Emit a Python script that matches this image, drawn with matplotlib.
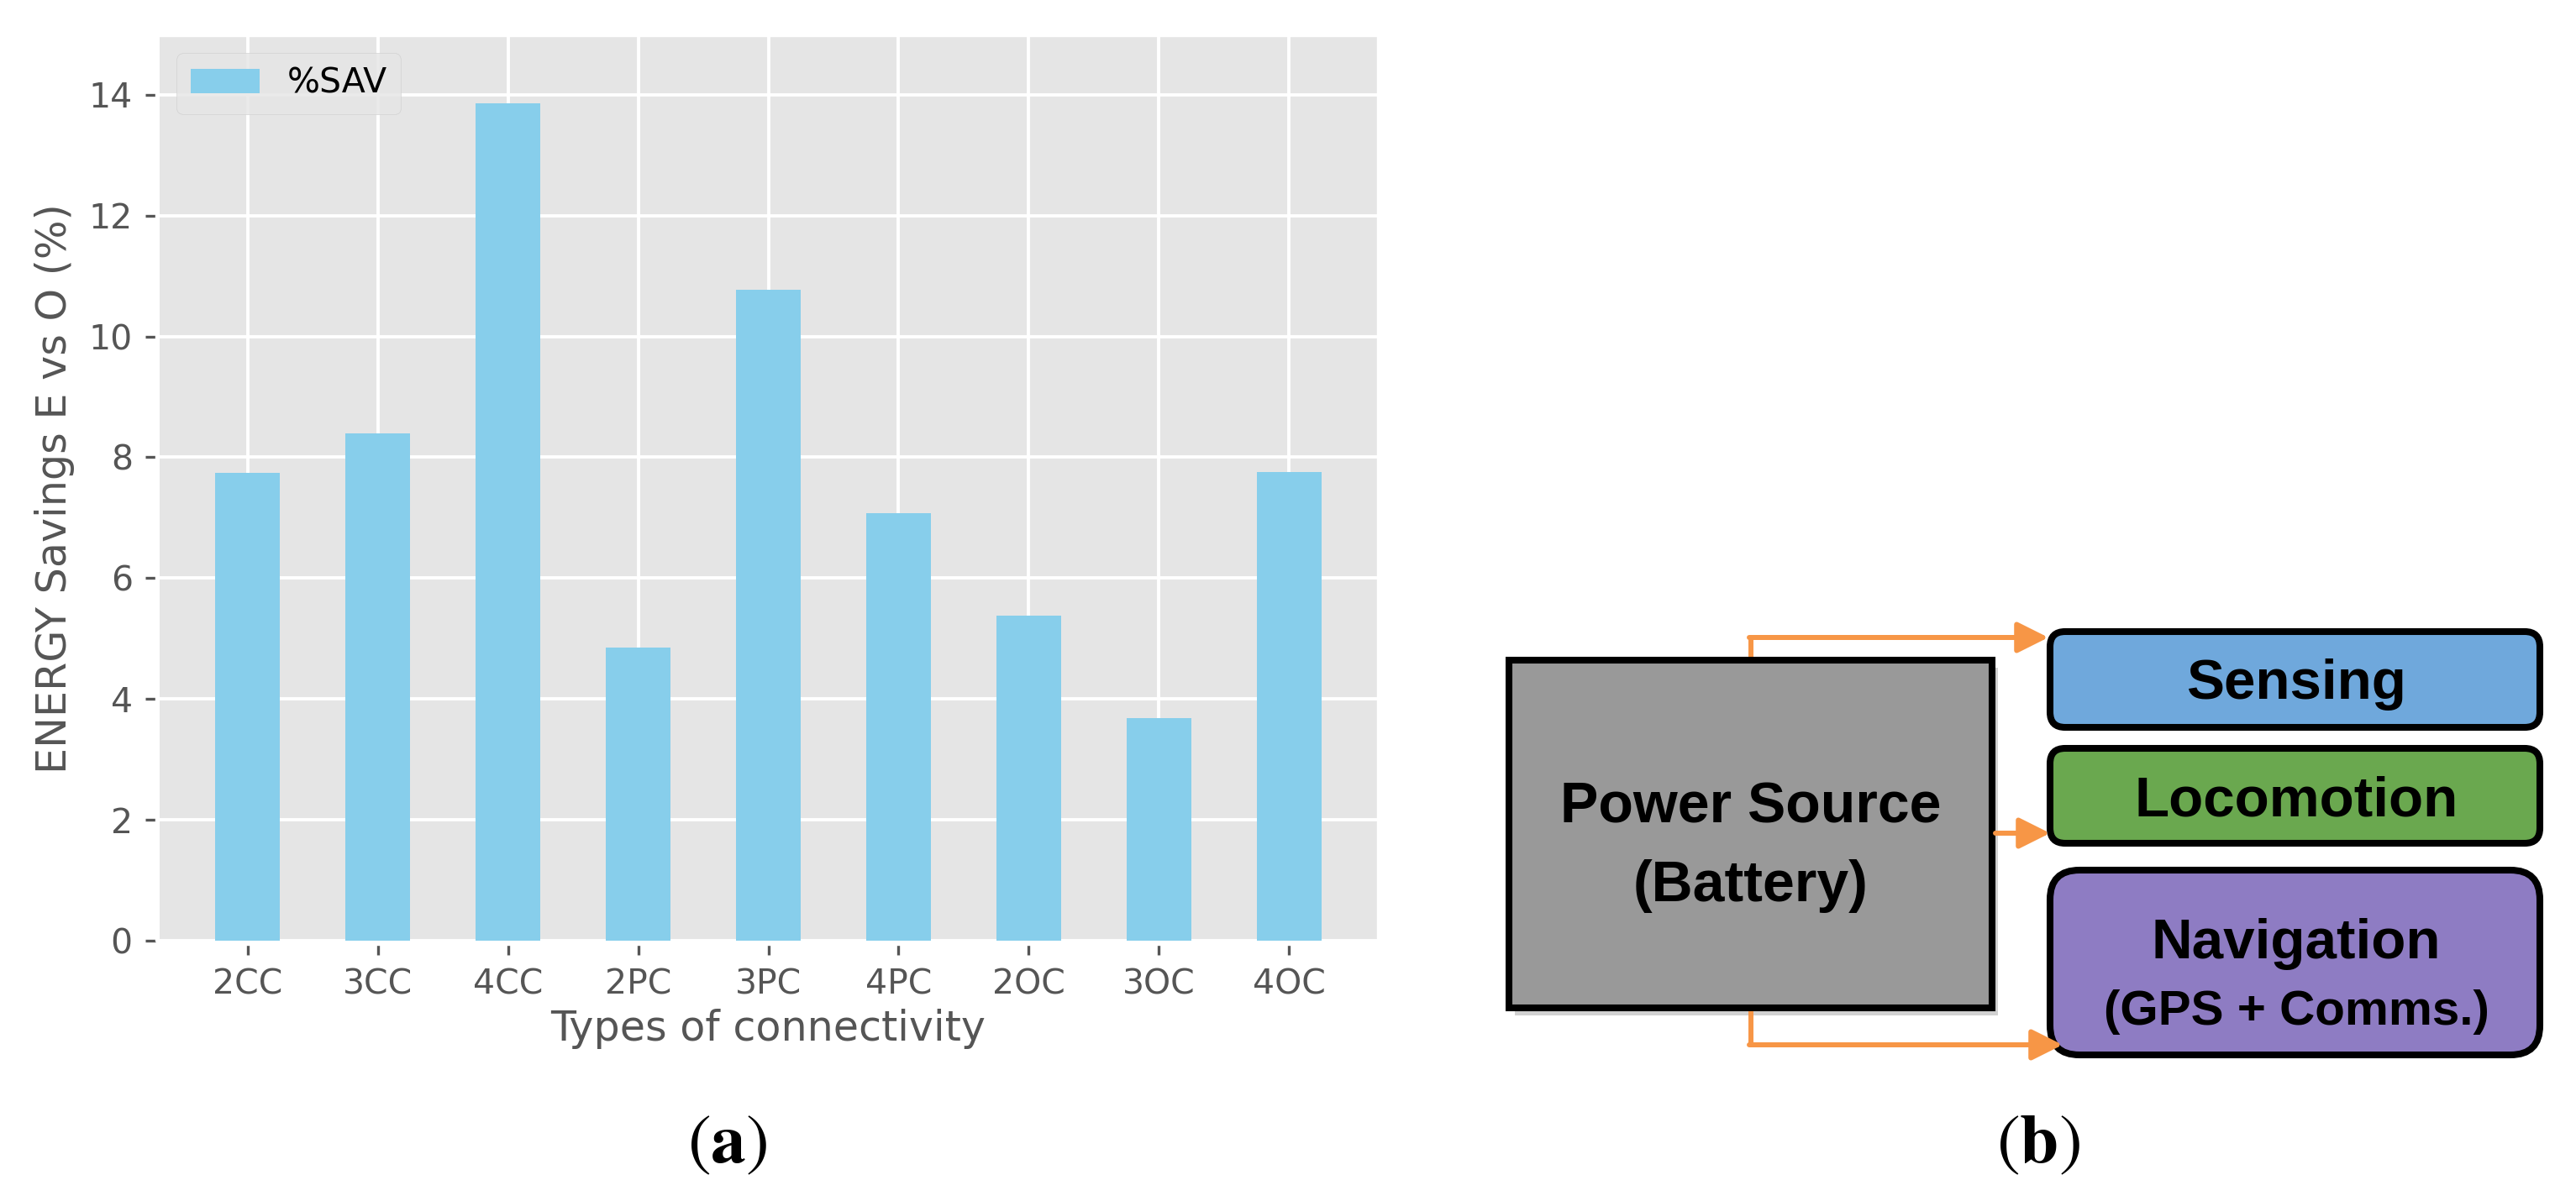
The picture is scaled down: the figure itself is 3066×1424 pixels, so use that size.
import numpy as np
import matplotlib.pyplot as plt
from matplotlib.patches import FancyBboxPatch, Rectangle

# data
categories = ['2CC', '3CC', '4CC', '2PC', '3PC', '4PC', '2OC', '3OC', '4OC']
sav_values = [7.74, 8.39, 13.86, 4.85, 10.77, 7.08, 5.38, 3.68, 7.76]
series_name = '%SAV'

# block diagram texts
source_lines = ['Power Source', '(Battery)']
blocks = ['Sensing', 'Locomotion', 'Navigation']
block_subs = ['', '', '(GPS + Comms.)']
block_colors = ['#6FA8DC', '#6AA84F', '#8E7CC3']

W, H = 3066, 1424

plt.style.use('ggplot')
plt.rcParams['font.size'] = 29.5
plt.rcParams['mathtext.fontset'] = 'stix'

fig = plt.figure(figsize=(W / 100, H / 100), dpi=100)

# (a) bar chart
ax = fig.add_axes([190 / W, 1 - 1120 / H, (1639 - 190) / W, (1120 - 43) / H])
x = np.arange(len(categories))
ax.bar(x, sav_values, width=0.5, color='#87CEEB', linewidth=0, label=series_name)
ax.set_xticks(x)
ax.set_xticklabels(categories)
ax.set_ylim(0, 14.97)
ax.set_xlabel('Types of connectivity', labelpad=6)
ax.set_ylabel('ENERGY Savings E vs O (%)', labelpad=12)
ax.grid(True, color='white', linewidth=2.8)
ax.tick_params(length=8.6, width=2.4, pad=11)
for s in ['left', 'bottom']:
    ax.spines[s].set_position(('outward', 3.6))
ax.legend(loc='upper left')

# (b) block diagram, drawn in pixel coordinates
dax = fig.add_axes([0, 0, 1, 1])
dax.set_xlim(0, W)
dax.set_ylim(H, 0)
dax.axis('off')

orange = '#F79646'
edge_lw = 5.8
bold = dict(ha='center', va='baseline', fontweight='bold', family='Liberation Sans')

# power source box with a soft shadow
dax.add_patch(Rectangle((1803, 795), 575, 414, facecolor='black', alpha=0.18, lw=0))
dax.add_patch(Rectangle((1796, 786), 575, 414, facecolor='#999999', edgecolor='black', lw=edge_lw))
dax.text(2083.5, 980, source_lines[0], fontsize=49, **bold)
dax.text(2083.5, 1073, source_lines[1], fontsize=49, **bold)

box_tops = [752, 891, 1036]
box_heights = [114, 113, 220]
box_round = [18, 18, 35]
title_base = [832, 972, 1141]
for i, name in enumerate(blocks):
    dax.add_patch(FancyBboxPatch((2440, box_tops[i]), 583, box_heights[i],
                                 boxstyle='round,pad=0,rounding_size=%d' % box_round[i],
                                 facecolor=block_colors[i], edgecolor='black', lw=edge_lw))
    dax.text(2733, title_base[i], name, fontsize=48.5, **bold)
    if block_subs[i]:
        dax.text(2733, 1220, block_subs[i], fontsize=42, **bold)

arrow = dict(arrowstyle='-|>,head_length=0.4,head_width=0.2', color=orange, lw=4.3,
             mutation_scale=56, shrinkA=0, shrinkB=0)
dax.plot([2084, 2084], [782, 759], color=orange, lw=4.3, solid_capstyle='butt')
dax.annotate('', xy=(2438, 759), xytext=(2082, 759), arrowprops=arrow)
dax.annotate('', xy=(2440, 992), xytext=(2375, 992), arrowprops=arrow)
dax.plot([2084, 2084], [1204, 1244], color=orange, lw=4.3, solid_capstyle='butt')
dax.annotate('', xy=(2455, 1244), xytext=(2082, 1244), arrowprops=arrow)

# captions
fig.text(866 / W, 1 - 1361 / H, r'$(\mathbf{a})$', ha='center', va='center', fontsize=60)
fig.text(2426 / W, 1 - 1361 / H, r'$(\mathbf{b})$', ha='center', va='center', fontsize=60)

fig.savefig('out.png', dpi=100)
